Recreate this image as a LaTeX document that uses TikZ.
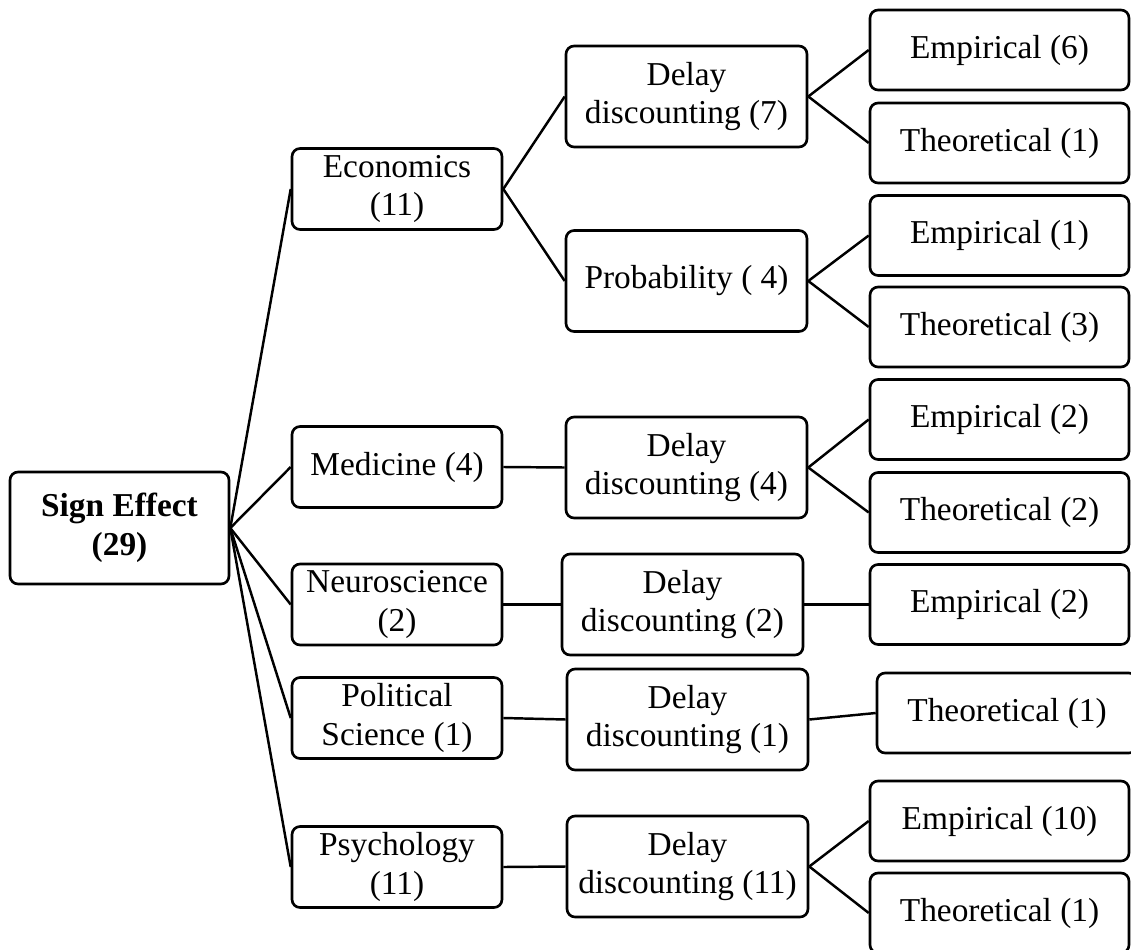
\documentclass[tikz,border=0pt]{standalone}
\usepackage{fontspec}
\setmainfont{Liberation Serif}
\usetikzlibrary{positioning}

\begin{document}
\begin{tikzpicture}[
    x=0.02cm, y=-0.02cm,
    box/.style={rectangle, draw, rounded corners=0.16cm, align=center, font=\fontsize{19}{22}\selectfont, line width=1.5pt, inner sep=1pt},
    field/.style={box, minimum width=4.2cm, minimum height=1.62cm},
    method/.style={box, minimum width=4.82cm, minimum height=2.02cm},
    kind/.style={box, minimum width=5.18cm, minimum height=1.6cm},
    link/.style={line width=1.4pt},
  ]
    \useasboundingbox (0,0) rectangle (1131,949);

    \node[box, minimum width=4.38cm, minimum height=2.24cm] (root) at (119.5,528) {\textbf{Sign Effect}\\\textbf{(29)}};

    \node[field] (econ) at (397,189) {Economics\\(11)};
    \node[field] (med) at (397,467) {Medicine (4)};
    \node[field] (neuro) at (397,604.5) {Neuroscience\\(2)};
    \node[field] (pol) at (397,718) {Political\\Science (1)};
    \node[field] (psy) at (397,867) {Psychology\\(11)};

    \node[method] (econdd) at (686.5,96.5) {Delay\\discounting (7)};
    \node[method] (econpr) at (686.5,281) {Probability ( 4)};
    \node[method] (meddd) at (686.5,467.5) {Delay\\discounting (4)};
    \node[method] (neurodd) at (682.5,604.5) {Delay\\discounting (2)};
    \node[method] (poldd) at (687.5,719.5) {Delay\\discounting (1)};
    \node[method] (psydd) at (687.5,866.5) {Delay\\discounting (11)};

    \node[kind] (econddemp) at (999.5,50) {Empirical (6)};
    \node[kind] (econddthe) at (999.5,143) {Theoretical (1)};
    \node[kind] (econpremp) at (999.5,235.5) {Empirical (1)};
    \node[kind] (econprthe) at (999.5,327) {Theoretical (3)};
    \node[kind] (medddemp) at (999.5,419.5) {Empirical (2)};
    \node[kind] (medddthe) at (999.5,512.5) {Theoretical (2)};
    \node[kind] (neuroddemp) at (999.5,604.5) {Empirical (2)};
    \node[kind, minimum width=5.2cm] (polddthe) at (1007,713) {Theoretical (1)};
    \node[kind] (psyddemp) at (999.5,821) {Empirical (10)};
    \node[kind] (psyddthe) at (999.5,913) {Theoretical (1)};

    \draw[link] (root.east) -- (econ.west);
    \draw[link] (root.east) -- (med.west);
    \draw[link] (root.east) -- (neuro.west);
    \draw[link] (root.east) -- (pol.west);
    \draw[link] (root.east) -- (psy.west);

    \draw[link] (econ.east) -- (econdd.west);
    \draw[link] (econ.east) -- (econpr.west);
    \draw[link] (med.east) -- (meddd.west);
    \draw[link] (neuro.east) -- (neurodd.west);
    \draw[link] (pol.east) -- (poldd.west);
    \draw[link] (psy.east) -- (psydd.west);

    \draw[link] (econdd.east) -- (econddemp.west);
    \draw[link] (econdd.east) -- (econddthe.west);
    \draw[link] (econpr.east) -- (econpremp.west);
    \draw[link] (econpr.east) -- (econprthe.west);
    \draw[link] (meddd.east) -- (medddemp.west);
    \draw[link] (meddd.east) -- (medddthe.west);
    \draw[link] (neurodd.east) -- (neuroddemp.west);
    \draw[link] (poldd.east) -- (polddthe.west);
    \draw[link] (psydd.east) -- (psyddemp.west);
    \draw[link] (psydd.east) -- (psyddthe.west);
  \end{tikzpicture}
\end{document}
